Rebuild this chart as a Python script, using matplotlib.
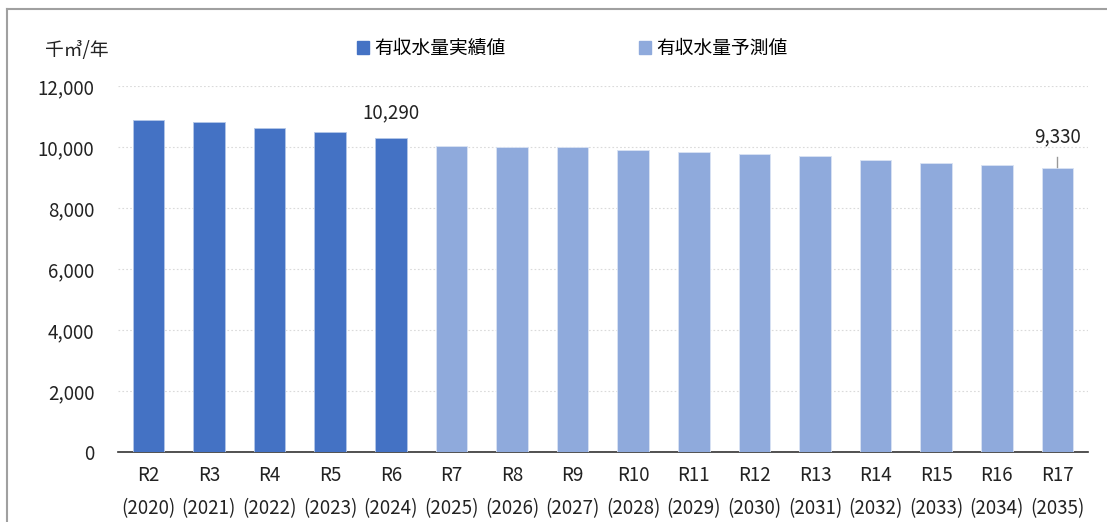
import matplotlib.pyplot as plt
from matplotlib.lines import Line2D
from matplotlib.patches import Patch

plt.rcParams['font.family'] = ['Noto Sans CJK JP', 'DejaVu Sans']

# data (千㎥/年)
reiwa = ["R2", "R3", "R4", "R5", "R6", "R7", "R8", "R9", "R10",
         "R11", "R12", "R13", "R14", "R15", "R16", "R17"]
years = [2020, 2021, 2022, 2023, 2024, 2025, 2026, 2027, 2028,
         2029, 2030, 2031, 2032, 2033, 2034, 2035]
actual = [10890, 10820, 10640, 10480, 10290]
forecast = [10040, 10010, 10000, 9910, 9845, 9760, 9700, 9570, 9485, 9410, 9330]

c_actual = "#4472C4"
c_forecast = "#8FAADC"

fig = plt.figure(figsize=(11.07, 5.22), dpi=100)
ax = fig.add_axes([0.1066, 0.134, 0.876, 0.701])

x_act = list(range(len(actual)))
x_fc = list(range(len(actual), len(actual) + len(forecast)))
ax.bar(x_act, actual, width=0.52, color=c_actual, edgecolor="#b4c7e7", linewidth=0.6, zorder=3)
ax.bar(x_fc, forecast, width=0.52, color=c_forecast, edgecolor="#dae3f3", linewidth=0.6, zorder=3)

ax.set_xlim(-0.5, 15.5)
ax.set_ylim(0, 12000)
ax.set_yticks(range(0, 12001, 2000))
ax.set_yticklabels([f"{v:,}" for v in range(0, 12001, 2000)], fontsize=13.5, color="#222222")
ax.set_xticks(range(len(reiwa)))
ax.set_xticklabels([f"{r}\n({y})" for r, y in zip(reiwa, years)], fontsize=13.5,
                   color="#222222", linespacing=1.8)
ax.tick_params(axis="both", length=0, pad=9)
ax.tick_params(axis="y", pad=17)

ax.grid(axis="y", color="#dadada", linestyle=(0, (1.5, 2)), linewidth=0.8, zorder=0)
for s in ["top", "right", "left"]:
    ax.spines[s].set_visible(False)
ax.spines["bottom"].set_color("#333333")
ax.spines["bottom"].set_linewidth(1.2)

# value labels
ax.text(x_act[-1], actual[-1] + 480, f"{actual[-1]:,}", ha="center", va="bottom",
        fontsize=13.5, color="#222222")
ax.plot([x_fc[-1], x_fc[-1]], [forecast[-1] + 20, forecast[-1] + 330], color="#999999", lw=1, zorder=4)
ax.text(x_fc[-1], forecast[-1] + 680, f"{forecast[-1]:,}", ha="center", va="bottom",
        fontsize=13.5, color="#222222")

fig.text(0.041, 0.903, "千㎥/年", fontsize=13.5, color="#222222", va="center")

handles = [Patch(color=c_actual), Patch(color=c_forecast)]
fig.legend(handles, ["有収水量実績値", "有収水量予測値"], ncol=2, frameon=False,
           loc="center left", bbox_to_anchor=(0.307, 0.907), fontsize=13.5,
           handlelength=0.65, handleheight=0.65, handletextpad=0.3, columnspacing=7.1)

# outer frame
fig.add_artist(Line2D([0.0063, 0.0063], [0, 0.983], color="#a0a0a0", lw=1.5))
fig.add_artist(Line2D([0.0063, 1], [0.983, 0.983], color="#a0a0a0", lw=1.5))

fig.savefig("out.png", dpi=100)
